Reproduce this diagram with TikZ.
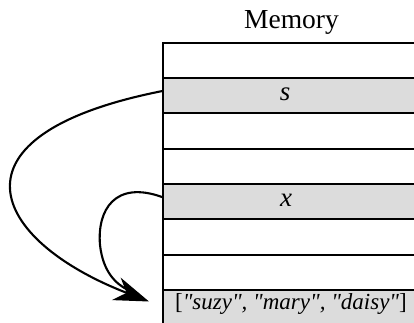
\documentclass[tikz,border=0pt]{standalone}
\usepackage{fontspec}
\setmainfont{Liberation Serif}
% same face without TeX ligatures, so that " stays a straight quote
\newfontfamily\listfont{Liberation Serif}
\usetikzlibrary{arrows.meta}
\definecolor{cellgray}{RGB}{220,220,220}
\begin{document}
\begin{tikzpicture}[x=1pt,y=-1pt,
  cell/.style={draw=black, line width=2.1pt, minimum width=270pt,
    minimum height=35.3pt, inner sep=0pt, anchor=north west},
  filled/.style={cell, fill=cellgray},
  lbl/.style={font=\fontsize{27}{31}\selectfont\itshape, inner sep=0pt, anchor=base},
  ptr/.style={line width=2.1pt}]
\useasboundingbox (0,0) rectangle (414,323);
\clip (0,0) rectangle (414,323);

% memory cells, top to bottom
\node[cell]   (r0) at (162.3, 41.7) {};
\node[filled] (rs) at (162.3, 77.0) {};
\node[cell]   (r2) at (162.3,112.3) {};
\node[cell]   (r3) at (162.3,147.6) {};
\node[filled] (rx) at (162.3,182.9) {};
\node[cell]   (r5) at (162.3,218.2) {};
\node[cell]   (r6) at (162.3,253.5) {};
\node[filled] (rl) at (162.3,288.8) {};

% labels
\node[font=\fontsize{27.5}{31}\selectfont, inner sep=0pt, anchor=base] (title) at (291.5,29) {Memory};
\node[lbl] (slbl) at (285,100.5) {s};
\node[lbl] (xlbl) at (286,206) {x};
\node[lbl, font=\fontsize{23}{27}\selectfont\listfont] (llbl) at (291,309)
  {[\textit{"suzy", "mary", "daisy"}]};

% references into the list
\coordinate (tip) at (149,301.5);
\coordinate (join) at (128,290);
\draw[ptr] ([yshift=4.5pt]rx.west) .. controls (115,180) and (97,210) .. (100,245)
  .. controls (103,272) and (116,284) .. (join);
\draw[ptr, -{Stealth[length=35pt,width=24pt,inset=11pt]}]
  ([yshift=4.65pt]rs.west) .. controls (-60,135) and (-10,240) .. (tip);
\end{tikzpicture}
\end{document}
